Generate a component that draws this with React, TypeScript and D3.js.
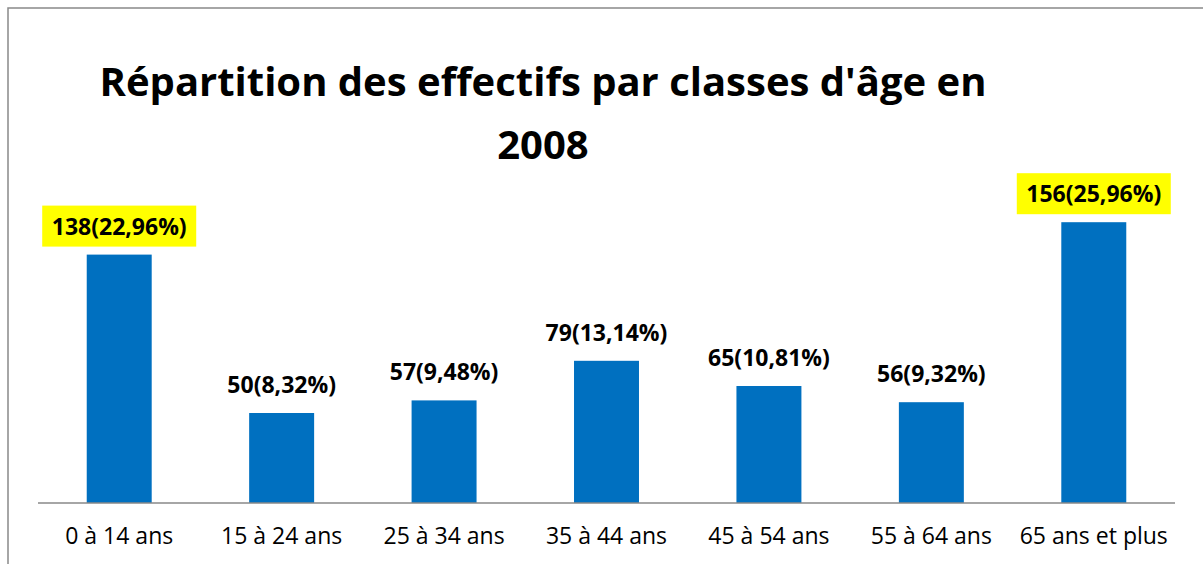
import React from "react";
import * as d3 from "d3";

const categories = [
  "0 à 14 ans",
  "15 à 24 ans",
  "25 à 34 ans",
  "35 à 44 ans",
  "45 à 54 ans",
  "55 à 64 ans",
  "65 ans et plus",
];
const effectifs = [138, 50, 57, 79, 65, 56, 156];
const parts = ["22,96%", "8,32%", "9,48%", "13,14%", "10,81%", "9,32%", "25,96%"];
const highlighted = [true, false, false, false, false, false, true];
const titleLines = ["Répartition des effectifs par classes d'âge en", "2008"];

const W = 1203;
const H = 564;
const plot = { left: 38, right: 1175, top: 179, bottom: 503 };
const font = "'Open Sans', 'Noto Sans', sans-serif";

export default function App() {
  const x = d3
    .scaleBand<string>()
    .domain(categories)
    .range([plot.left, plot.right])
    .paddingInner(0.6)
    .paddingOuter(0.3);

  const y = d3.scaleLinear().domain([0, 180]).range([plot.bottom, plot.top]);

  const labelSize = 23;

  return (
    <svg
      width={W}
      height={H}
      style={{ position: "absolute", left: 0, top: 0, background: "#fff" }}
    >
      {/* chart frame, right and bottom edges fall outside the picture */}
      <rect x={8} y={8} width={1400} height={800} fill="#fff" stroke="#898989" strokeWidth={1.5} />

      <text textAnchor="middle" fontFamily={font} fontWeight="bold" fontSize={40} fill="#000">
        <tspan x={543} y={96}>{titleLines[0]}</tspan>
        <tspan x={543} y={159}>{titleLines[1]}</tspan>
      </text>

      {categories.map((c, i) => {
        const bx = x(c)!;
        const cx = bx + x.bandwidth() / 2;
        const top = y(effectifs[i]);
        const label = `${effectifs[i]}(${parts[i]})`;
        return (
          <g key={c}>
            <rect x={bx} y={top} width={x.bandwidth()} height={plot.bottom - top} fill="#0070C0" />
            {highlighted[i] && (
              <rect x={cx - 77} y={top - 49} width={154} height={41} fill="#FFFF00" />
            )}
            <text
              x={cx}
              y={top - 20}
              textAnchor="middle"
              fontFamily={font}
              fontWeight="bold"
              fontSize={labelSize}
              fill="#000"
            >
              {label}
            </text>
            <text x={cx} y={544} textAnchor="middle" fontFamily={font} fontSize={23} fill="#000">
              {c}
            </text>
          </g>
        );
      })}

      <line x1={plot.left} x2={plot.right} y1={plot.bottom} y2={plot.bottom} stroke="#898989" strokeWidth={1.5} />
    </svg>
  );
}
